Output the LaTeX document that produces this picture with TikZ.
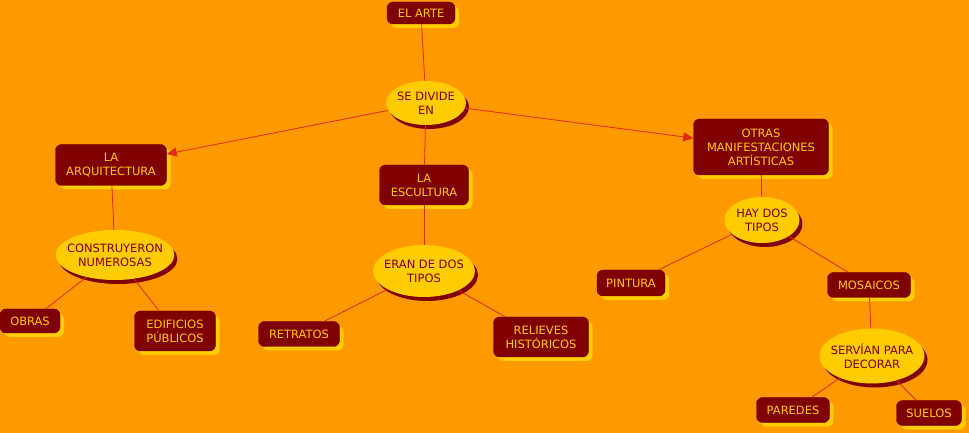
\documentclass[tikz,border=0pt]{standalone}
\usepackage{fontspec}
\setmainfont{DejaVu Sans}
\usetikzlibrary{shapes.geometric,shadows,arrows.meta}
\definecolor{bgorange}{HTML}{FF9900}
\definecolor{boxred}{HTML}{800000}
\definecolor{gold}{HTML}{FFCC00}
\definecolor{linered}{HTML}{E02B10}
\begin{document}
\begin{tikzpicture}[x=1bp, y=-1bp, >={Triangle[length=10bp,width=9bp]},
    font=\fontsize{11.5}{14}\selectfont,
    cbox/.style={rectangle, rounded corners=6bp, draw=boxred!80!black, fill=boxred,
      text=gold, align=center, inner sep=1bp,
      drop shadow={shadow xshift=4bp, shadow yshift=-4bp, fill=gold, opacity=1}},
    cell/.style={ellipse, fill=gold, text=boxred, align=center,
      inner xsep=-6bp, inner ysep=-1bp,
      drop shadow={shadow xshift=3bp, shadow yshift=-4bp, fill=boxred, opacity=1}},
    conn/.style={draw=linered, line width=0.8bp}]
  % background
  \fill[bgorange] (0,0) rectangle (969,433);
  \useasboundingbox (0,0) rectangle (969,433);

  % Top of the map
  \node[cbox, minimum width=68bp, minimum height=22bp] (arte) at (421,13) {EL ARTE};
  \node[cell, minimum width=80bp, minimum height=44bp] (divide) at (426,103) {SE DIVIDE\\EN};

  % Three branches
  \node[cbox, minimum width=111bp, minimum height=41bp] (arqui) at (111,165) {LA\\ARQUITECTURA};
  \node[cbox, minimum width=89bp, minimum height=40bp] (escul) at (424,185) {LA\\ESCULTURA};
  \node[cbox, minimum width=135bp, minimum height=56bp] (otras) at (761,147) {OTRAS\\MANIFESTACIONES\\ARTÍSTICAS};

  % Architecture
  \node[cell, minimum width=118bp, minimum height=50bp] (constr) at (115,255) {CONSTRUYERON\\NUMEROSAS};
  \node[cbox, minimum width=60bp, minimum height=24bp] (obras) at (30,321) {OBRAS};
  \node[cbox, minimum width=81bp, minimum height=40bp] (edif) at (175,331) {EDIFICIOS\\PÚBLICOS};

  % Sculpture
  \node[cell, minimum width=102bp, minimum height=52bp] (eran) at (424,271) {ERAN DE DOS\\TIPOS};
  \node[cbox, minimum width=81bp, minimum height=25bp] (retr) at (299,334) {RETRATOS};
  \node[cbox, minimum width=95bp, minimum height=40bp] (reli) at (541,337) {RELIEVES\\HISTÓRICOS};

  % Other arts
  \node[cell, minimum width=75bp, minimum height=46bp] (haydos) at (762,220) {HAY DOS\\TIPOS};
  \node[cbox, minimum width=68bp, minimum height=26bp] (pint) at (631,283) {PINTURA};
  \node[cbox, minimum width=83bp, minimum height=25bp] (mosa) at (869,285) {MOSAICOS};
  \node[cell, minimum width=105bp, minimum height=55bp] (servian) at (872,356) {SERVÍAN PARA\\DECORAR};
  \node[cbox, minimum width=73bp, minimum height=25bp] (pared) at (793,410) {PAREDES};
  \node[cbox, minimum width=65bp, minimum height=25bp] (suelo) at (929,413) {SUELOS};

  % Connectors
  \draw[conn] (arte) -- (divide);
  \draw[conn, ->] (divide) -- (arqui);
  \draw[conn] (divide) -- (escul);
  \draw[conn, ->] (divide) -- (otras);

  \draw[conn] (arqui) -- (constr);
  \draw[conn] (constr) -- (obras);
  \draw[conn] (constr) -- (edif);

  \draw[conn] (escul) -- (eran);
  \draw[conn] (eran) -- (retr);
  \draw[conn] (eran) -- (reli);

  \draw[conn] (otras) -- (haydos);
  \draw[conn] (haydos) -- (pint);
  \draw[conn] (haydos) -- (mosa);
  \draw[conn] (mosa) -- (servian);
  \draw[conn] (servian) -- (pared);
  \draw[conn] (servian) -- (suelo);
\end{tikzpicture}
\end{document}
